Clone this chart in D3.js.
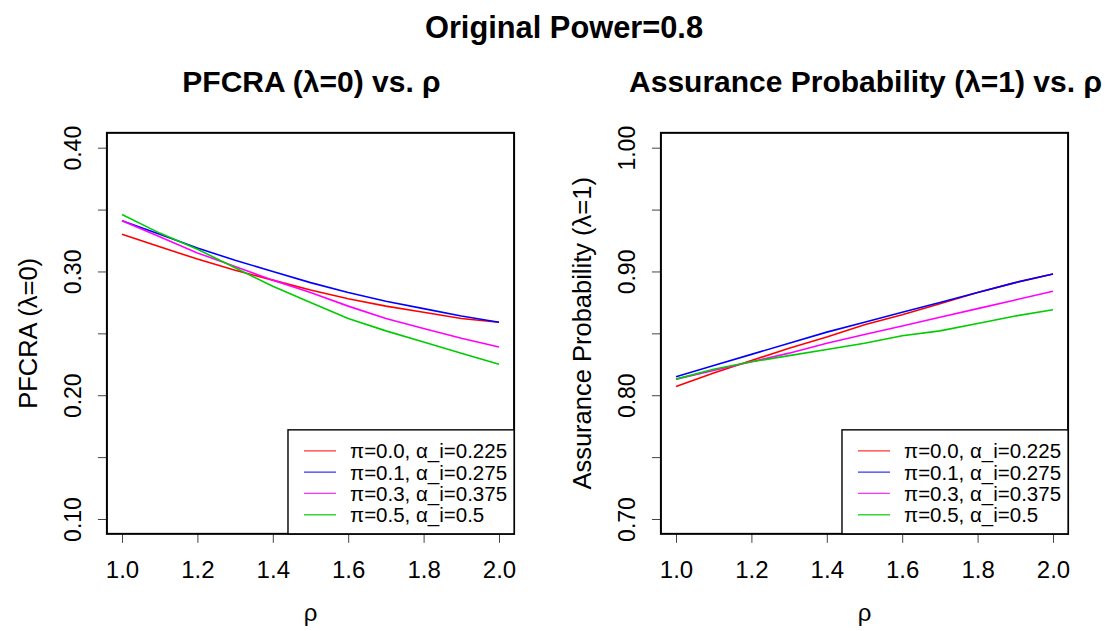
<!DOCTYPE html>
<html>
<head>
<meta charset="utf-8">
<script src="https://cdn.jsdelivr.net/npm/d3@7"></script>
<style>
  body { margin: 0; background: #fff; }
  svg { display: block; font-family: "Liberation Sans", Arial, sans-serif; }
</style>
</head>
<body>
<div id="chart"></div>
<script>
// values
const rho = [1.0, 1.1, 1.2, 1.3, 1.4, 1.5, 1.6, 1.7, 1.8, 1.9, 2.0];

const pfcraPi00 = [0.330, 0.320, 0.310, 0.301, 0.293, 0.285, 0.278, 0.272, 0.267, 0.262, 0.259];
const pfcraPi01 = [0.341, 0.330, 0.319, 0.309, 0.300, 0.291, 0.283, 0.276, 0.270, 0.264, 0.259];
const pfcraPi03 = [0.341, 0.328, 0.315, 0.304, 0.293, 0.283, 0.272, 0.262, 0.254, 0.246, 0.239];
const pfcraPi05 = [0.346, 0.331, 0.318, 0.303, 0.288, 0.275, 0.262, 0.252, 0.243, 0.234, 0.225];

const assurPi00 = [0.807, 0.818, 0.828, 0.838, 0.847, 0.857, 0.865, 0.874, 0.883, 0.891, 0.898];
const assurPi01 = [0.815, 0.824, 0.833, 0.842, 0.851, 0.859, 0.867, 0.875, 0.883, 0.891, 0.898];
const assurPi03 = [0.813, 0.820, 0.827, 0.834, 0.842, 0.849, 0.856, 0.863, 0.870, 0.877, 0.884];
const assurPi05 = [0.813, 0.821, 0.827, 0.832, 0.837, 0.842, 0.848, 0.852, 0.858, 0.864, 0.869];

const seriesLabels = ["π=0.0, α_i=0.225", "π=0.1, α_i=0.275", "π=0.3, α_i=0.375", "π=0.5, α_i=0.5"];
const seriesColors = ["#ff0000", "#0000ff", "#ff00ff", "#00cc00"];

const rhoTicks = [1.0, 1.2, 1.4, 1.6, 1.8, 2.0];
const pfcraTicks = [0.10, 0.15, 0.20, 0.25, 0.30, 0.35, 0.40];
const pfcraTickLabels = ["0.10", "", "0.20", "", "0.30", "", "0.40"];
const assurTicks = [0.70, 0.75, 0.80, 0.85, 0.90, 0.95, 1.00];
const assurTickLabels = ["0.70", "", "0.80", "", "0.90", "", "1.00"];

const width = 1109, height = 631;

const svg = d3.select("#chart").append("svg")
    .attr("width", width)
    .attr("height", height);

svg.append("text")
    .attr("x", 564)
    .attr("y", 38)
    .attr("text-anchor", "middle")
    .attr("font-weight", "bold")
    .attr("font-size", 30.8)
    .text("Original Power=0.8");

class PanelVis {

    constructor(svg, opts) {
        this.svg = svg;
        this.opts = opts;
        this.initVis();
    }

    initVis() {
        let vis = this;
        let o = vis.opts;

        vis.x = d3.scaleLinear([1, 2], [o.x0, o.x1]);
        vis.y = d3.scaleLinear([o.yTicks[0], o.yTicks[o.yTicks.length - 1]], [519, 147.7]);

        // R pads the axis range by 4% on each side
        let xPad = 0.04 * (vis.x.domain()[1] - vis.x.domain()[0]);
        let yPad = 0.04 * (vis.y.domain()[1] - vis.y.domain()[0]);
        vis.boxLeft = vis.x(vis.x.domain()[0] - xPad);
        vis.boxRight = vis.x(vis.x.domain()[1] + xPad);
        vis.boxTop = vis.y(vis.y.domain()[1] + yPad);
        vis.boxBottom = vis.y(vis.y.domain()[0] - yPad);

        vis.g = vis.svg.append("g");

        vis.g.append("text")
            .attr("x", (vis.boxLeft + vis.boxRight) / 2 + 1)
            .attr("y", 92)
            .attr("text-anchor", "middle")
            .attr("font-weight", "bold")
            .attr("font-size", 30)
            .text(o.title);

        vis.g.append("g")
            .attr("transform", `translate(0,${vis.boxBottom})`)
            .call(d3.axisBottom(vis.x).tickValues(rhoTicks).tickSize(9).tickFormat(d3.format(".1f")))
            .call(g => g.select(".domain").remove())
            .call(g => g.selectAll("line").attr("stroke", "#444"))
            .call(g => g.selectAll("text")
                .attr("y", 44)
                .attr("dy", null)
                .attr("font-size", 24)
                .attr("font-family", null)
                .attr("fill", "#000"));

        vis.g.append("g")
            .attr("transform", `translate(${vis.boxLeft},0)`)
            .call(d3.axisLeft(vis.y).tickValues(o.yTicks).tickSize(9)
                .tickFormat((d, i) => o.yTickLabels[i]))
            .call(g => g.select(".domain").remove())
            .call(g => g.selectAll("line").attr("stroke", "#444"))
            .call(g => g.selectAll("text")
                .attr("x", null)
                .attr("dy", null)
                .attr("transform", "translate(-26,0) rotate(-90)")
                .attr("text-anchor", "middle")
                .attr("font-size", 23)
                .attr("font-family", null)
                .attr("fill", "#000"));

        vis.g.append("text")
            .attr("x", (vis.boxLeft + vis.boxRight) / 2)
            .attr("y", vis.boxBottom + 87)
            .attr("text-anchor", "middle")
            .attr("font-size", 24)
            .text("ρ");

        vis.g.append("text")
            .attr("transform", `translate(${vis.boxLeft - 70},${(vis.boxTop + vis.boxBottom) / 2}) rotate(-90)`)
            .attr("text-anchor", "middle")
            .attr("font-size", 25.5)
            .text(o.yLabel);

        let line = d3.line()
            .x((d, i) => vis.x(rho[i]))
            .y(d => vis.y(d));

        vis.g.append("g")
            .selectAll("path")
            .data(o.series)
            .join("path")
            .attr("fill", "none")
            .attr("stroke", (d, i) => seriesColors[i])
            .attr("stroke-width", 1.6)
            .attr("d", line);

        vis.g.append("rect")
            .attr("x", vis.boxLeft)
            .attr("y", vis.boxTop)
            .attr("width", vis.boxRight - vis.boxLeft)
            .attr("height", vis.boxBottom - vis.boxTop)
            .attr("fill", "none")
            .attr("stroke", "#000")
            .attr("stroke-width", 2);

        vis.drawLegend();
    }

    drawLegend() {
        let vis = this;
        let fontSize = 20.5, rowH = 21.3;

        let leg = vis.g.append("g");
        let box = leg.append("rect")
            .attr("fill", "#fff")
            .attr("stroke", "#000")
            .attr("stroke-width", 1.4);

        let rows = leg.selectAll("g.row")
            .data(seriesLabels)
            .join("g")
            .attr("class", "row")
            .attr("transform", (d, i) => `translate(0,${21 + i * rowH})`);

        rows.append("line")
            .attr("x1", 16).attr("x2", 48)
            .attr("stroke", (d, i) => seriesColors[i])
            .attr("stroke-width", 1.3)
            .attr("stroke-opacity", 0.8);

        let texts = rows.append("text")
            .attr("x", 62)
            .attr("y", fontSize * 0.36)
            .attr("font-size", fontSize)
            .text(d => d);

        let textW = d3.max(texts.nodes(), n => n.getComputedTextLength());
        let w = 62 + textW + 7, h = 104;

        box.attr("width", w).attr("height", h);
        leg.attr("transform", `translate(${vis.boxRight - w},${vis.boxBottom - h})`);
    }
}

new PanelVis(svg, {
    x0: 122, x1: 499,
    title: "PFCRA (λ=0) vs. ρ",
    yLabel: "PFCRA (λ=0)",
    yTicks: pfcraTicks,
    yTickLabels: pfcraTickLabels,
    series: [pfcraPi00, pfcraPi01, pfcraPi03, pfcraPi05]
});

new PanelVis(svg, {
    x0: 676, x1: 1053,
    title: "Assurance Probability (λ=1) vs. ρ",
    yLabel: "Assurance Probability (λ=1)",
    yTicks: assurTicks,
    yTickLabels: assurTickLabels,
    series: [assurPi00, assurPi01, assurPi03, assurPi05]
});
</script>
</body>
</html>
